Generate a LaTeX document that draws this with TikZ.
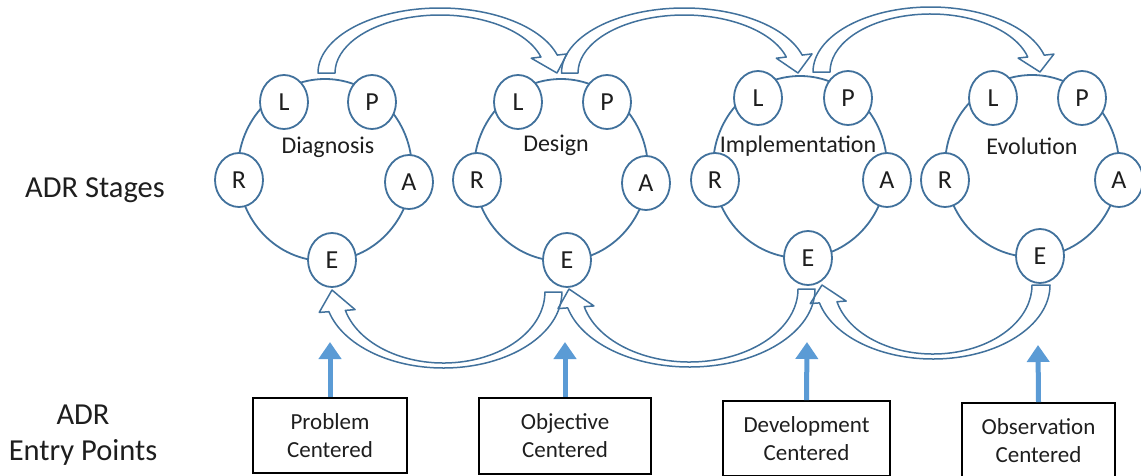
\documentclass[tikz,border=0pt]{standalone}
\usepackage{fontspec}
\setmainfont{Carlito}
\usetikzlibrary{arrows.meta,shapes.geometric,calc}
\definecolor{ring}{RGB}{65,113,156}
\definecolor{entryblue}{RGB}{91,155,213}
\definecolor{ink}{RGB}{30,30,30}
\newcommand{\barbw}{18pt}
% #1 cx, #2 cy, #3 rx outer, #4 ry outer, #5 rx inner, #6 ry inner, #7 tail angle, #8 head angle, #9 tip
\newcommand{\hollowarr}[9]{%
  \path ($(#1,#2)+(#8:#3 and #4)$) coordinate (hO)
        ($(#1,#2)+(#8:#5 and #6)$) coordinate (hI)
        ($(hO)!0.5!(hI)$) coordinate (hM)
        ($(hM)!\barbw!(hO)$) coordinate (hBO)
        ($(hM)!\barbw!(hI)$) coordinate (hBI);
  \draw[harrow] ($(#1,#2)+(#7:#3 and #4)$) arc[start angle=#7,end angle=#8,x radius=#3,y radius=#4]
     -- (hBO) -- #9 -- (hBI) -- (hI)
     arc[start angle=#8,end angle=#7,x radius=#5,y radius=#6] -- cycle;
}
\tikzset{
  bigring/.style={ellipse, draw=ring, line width=1.8pt, minimum width=174pt, minimum height=182pt, inner sep=0pt},
  letter/.style={ellipse, draw=ring, line width=1.8pt, fill=white, minimum width=48pt, minimum height=54pt, inner sep=0pt, text=ink, font=\fontsize{26}{26}\selectfont},
  stagename/.style={text=ink, inner sep=0pt, font=\fontsize{24}{24}\selectfont},
  sidelabel/.style={text=ink, align=center, inner sep=0pt, font=\fontsize{30.5}{36}\selectfont},
  entrybox/.style={draw=black, line width=1.8pt, align=center, inner sep=0pt, text=ink, font=\fontsize{23}{28}\selectfont},
  entryarrow/.style={draw=entryblue, line width=5pt, -{Triangle[length=17pt,width=22pt]}},
  harrow/.style={draw=ring, line width=1.5pt, line join=round}
}
\begin{document}
\begin{tikzpicture}[x=1pt,y=1pt]
\useasboundingbox (0,0) rectangle (1141,-475);

% side labels
\node[sidelabel] (stages) at (95,-190) {ADR Stages};
\node[sidelabel] (entry) at (83,-435) {ADR\\Entry Points};

% big rings
\node[bigring] (s1) at (325,-170) {};
\node[bigring] (s2) at (561,-170) {};
\node[bigring] (s3) at (800,-167) {};
\node[bigring] (s4) at (1032,-166) {};

% stage names
\node[stagename] (n1) at (328,-147) {Diagnosis};
\node[stagename] (n2) at (556,-145) {Design};
\node[stagename] (n3) at (798,-146) {Implementation};
\node[stagename] (n4) at (1032,-146) {Evolution};

% letters, stage 1
\node[letter] (l1) at (284,-102) {L};
\node[letter] (p1) at (372,-102) {P};
\node[letter] (r1) at (239,-180) {R};
\node[letter] (a1) at (409,-182) {A};
\node[letter] (e1) at (332,-260) {E};
% stage 2
\node[letter] (l2) at (518,-102) {L};
\node[letter] (p2) at (607,-102) {P};
\node[letter] (r2) at (477,-180) {R};
\node[letter] (a2) at (646,-183) {A};
\node[letter] (e2) at (567,-260) {E};
% stage 3
\node[letter] (l3) at (758,-98) {L};
\node[letter] (p3) at (848,-98) {P};
\node[letter] (r3) at (715,-180) {R};
\node[letter] (a3) at (887,-180) {A};
\node[letter] (e3) at (808,-258) {E};
% stage 4
\node[letter] (l4) at (993,-98) {L};
\node[letter] (p4) at (1082,-98) {P};
\node[letter] (r4) at (945,-180) {R};
\node[letter] (a4) at (1119,-180) {A};
\node[letter] (e4) at (1040,-256) {E};

% top hollow arrows (stage to next stage)
\hollowarr{440}{-73}{122}{65}{105}{58}{180}{16}{(557,-73)}
\hollowarr{684.2}{-73}{122.7}{65}{106.2}{58}{180}{16}{(798,-73)}
\hollowarr{930.6}{-72}{117.6}{65}{100.6}{58}{180}{15}{(1040,-72)}

% bottom hollow arrows (back to previous stage)
\hollowarr{443.4}{-292}{118.5}{76}{101.5}{71}{0}{-165}{(332,-290)}
\hollowarr{689.5}{-289}{125.5}{78}{108.5}{73}{0}{-166}{(569,-289)}
\hollowarr{933}{-285}{117}{74}{99}{69}{0}{-166}{(822,-285)}

% entry boxes
\node[entrybox, minimum width=154pt, minimum height=75pt] (pc) at (330,-435.5) {Problem\\Centered};
\node[entrybox, minimum width=172pt, minimum height=76pt] (oc) at (565,-436) {Objective\\Centered};
\node[entrybox, minimum width=167pt, minimum height=75pt] (dc) at (806.5,-438.5) {Development\\Centered};
\node[entrybox, minimum width=153pt, minimum height=75pt] (obc) at (1038.5,-440.5) {Observation\\Centered};

% entry arrows
\coordinate (pct) at (330,-342);
\coordinate (oct) at (565,-342);
\coordinate (dct) at (807,-342);
\coordinate (obct) at (1038,-345);
\draw[entryarrow] (pc.north) -- (pct);
\draw[entryarrow] (oc.north) -- (oct);
\draw[entryarrow] (dc.north) -- (dct);
\draw[entryarrow] (obc.north) -- (obct);
\end{tikzpicture}
\end{document}
